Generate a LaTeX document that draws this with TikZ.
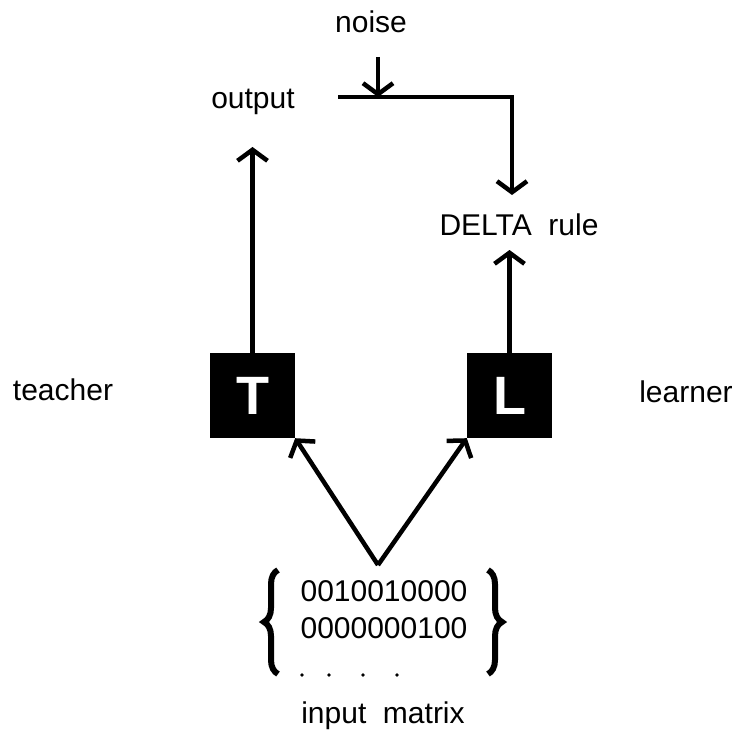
\documentclass[tikz,border=0pt]{standalone}
\usepackage{fontspec}
\setmainfont{Liberation Sans}
\usetikzlibrary{arrows.meta,decorations.pathreplacing}
\tikzset{
  lbl/.style={font=\fontsize{30}{37}\selectfont,inner sep=0pt},
  boxnode/.style={fill=black,text=white,minimum size=85pt,inner sep=0pt,
    font=\fontsize{54}{60}\selectfont\bfseries},
  arr/.style={line width=4.5pt,-{Straight Barb[length=11pt,width=30pt,line width=4.5pt]}},
  brc/.style={line width=6pt,decorate,decoration={brace,amplitude=14pt}}
}
\begin{document}
\begin{tikzpicture}[x=1pt,y=-1pt]
\useasboundingbox (0,0) rectangle (736,733);

\node[lbl] (noise) at (371,22) {noise};
\node[lbl] (output) at (253,102) {output};
\node[lbl] (delta) at (519,225) {DELTA\ \ rule};
\node[lbl] (teacher) at (63,390) {teacher};
\node[lbl] (learner) at (686,392) {learner};

\node[boxnode] (T) at (252.5,395.5) {T};
\node[boxnode] (L) at (509.5,395.5) {L};

\node[lbl,align=left] (rows) at (384,610) {0010010000\\0000000100};
\node[lbl] (matrix) at (383,716) {input\ \ matrix};
\coordinate (apex) at (378,565);
\coordinate (fb) at (338,97);
\coordinate (corner) at (512,97);
\coordinate (hit) at (378,97);

% dots under the rows
\foreach \x in {302,329,363,397}
  \fill (\x,675) circle (1.8pt);

% braces
\draw[brc] (278,674) -- (278,570);
\draw[brc] (488,570) -- (488,674);

% connectors
\draw[arr] (T.north) -- ([yshift=-147pt]T.north |- 0,0);
\draw[arr] (L.north) -- ([yshift=-250pt]L.north |- 0,0);
\draw[arr] (apex) -- (T.south east);
\draw[arr] (apex) -- (L.south west);
\draw[arr] (fb) -- (corner) -- ([yshift=-195pt]corner |- 0,0);
\draw[arr] ([yshift=-57pt]hit |- 0,0) -- (hit);
\end{tikzpicture}
\end{document}
